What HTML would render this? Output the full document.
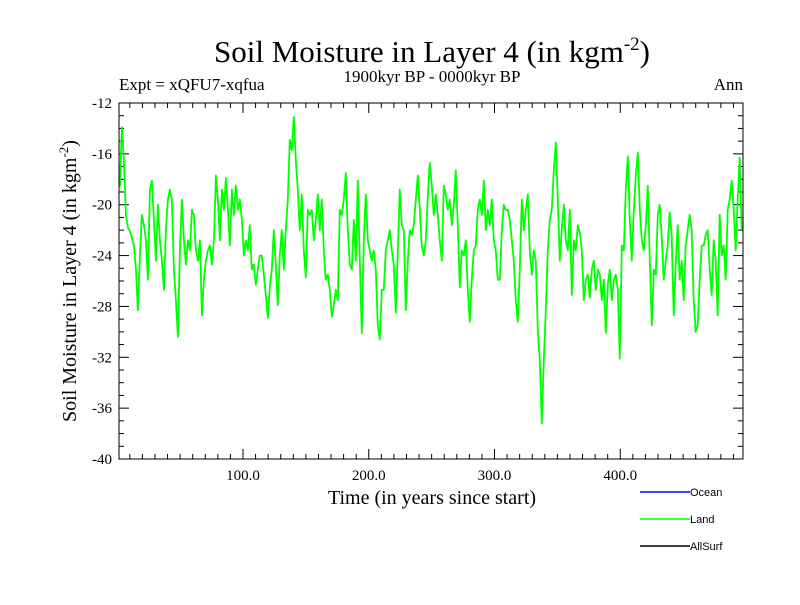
<!DOCTYPE html>
<html><head><meta charset="utf-8"><style>
body{margin:0;background:#fff;}
svg text{font-family:"Liberation Serif",serif;}
</style></head><body>
<svg id="chart" width="800" height="600" xmlns="http://www.w3.org/2000/svg">
<rect width="800" height="600" fill="#fff"/>
<text x="432" y="62" font-size="31" text-anchor="middle">Soil Moisture in Layer 4 (in kgm<tspan font-size="19" dy="-12">-2</tspan><tspan dy="12">)</tspan></text>
<text x="119" y="90" font-size="17">Expt = xQFU7-xqfua</text>
<text x="432" y="82" font-size="17" text-anchor="middle">1900kyr BP - 0000kyr BP</text>
<text x="743" y="90" font-size="17" text-anchor="end">Ann</text>
<text transform="translate(76,281) rotate(-90)" font-size="20" text-anchor="middle">Soil Moisture in Layer 4 (in kgm<tspan font-size="13" dy="-8">-2</tspan><tspan dy="8">)</tspan></text>
<text x="432" y="504" font-size="20" text-anchor="middle">Time (in years since start)</text>
<g id="axes"></g>
<g id="series"></g>
<rect x="119" y="103" width="624" height="356" fill="none" stroke="#000" stroke-width="1"/>
<g>
<line x1="640" y1="492" x2="690" y2="492" stroke="#0000ff" stroke-width="1.5"/>
<text x="690" y="496" font-size="11" style="font-family:'Liberation Sans',sans-serif">Ocean</text>
<line x1="640" y1="519" x2="690" y2="519" stroke="#00ff00" stroke-width="1.5"/>
<text x="690" y="523" font-size="11" style="font-family:'Liberation Sans',sans-serif">Land</text>
<line x1="640" y1="546" x2="690" y2="546" stroke="#000" stroke-width="1.5"/>
<text x="690" y="550" font-size="11" style="font-family:'Liberation Sans',sans-serif">AllSurf</text>
</g>
</svg>
<script>
const yTicks = [-12,-16,-20,-24,-28,-32,-36,-40];
const xTicks = [100,200,300,400];
const xTickLabels = ["100.0","200.0","300.0","400.0"];
const startYear = 2.1;
const yearStep = 1.59;
const landValues = [-18.6,-13.9,-16.5,-20.8,-21.8,-22.1,-22.6,-23.2,-25.0,-28.3,-24.0,-20.8,-21.6,-22.8,-25.9,-18.8,-18.1,-21.2,-24.4,-20.0,-22.8,-24.4,-26.7,-22.0,-19.6,-18.8,-19.6,-25.1,-27.5,-30.4,-23.6,-19.6,-22.8,-24.7,-22.8,-23.6,-20.4,-20.8,-23.6,-24.4,-22.8,-28.7,-25.9,-24.4,-23.6,-23.2,-24.7,-22.8,-17.7,-19.6,-22.8,-18.8,-20.4,-17.9,-20.4,-23.2,-18.8,-20.8,-18.5,-20.4,-19.6,-21.2,-24.0,-22.8,-23.6,-21.6,-25.1,-24.7,-26.3,-25.1,-24.0,-24.0,-25.5,-27.1,-28.9,-26.5,-25.1,-22.0,-24.7,-27.9,-24.0,-22.0,-25.1,-22.0,-19.6,-14.9,-15.7,-13.1,-16.5,-18.8,-22.0,-19.2,-23.6,-25.7,-20.4,-20.8,-20.4,-22.8,-21.2,-19.2,-22.0,-19.6,-23.6,-25.9,-25.5,-26.7,-28.8,-27.9,-26.7,-27.5,-20.4,-20.8,-19.6,-17.5,-22.0,-24.7,-25.1,-21.2,-24.4,-18.1,-24.4,-30.1,-22.8,-19.2,-22.8,-23.6,-24.4,-23.6,-25.1,-29.5,-30.6,-26.7,-26.7,-23.6,-22.8,-22.0,-23.6,-24.7,-28.5,-23.6,-18.8,-21.6,-22.0,-28.3,-24.4,-22.0,-22.4,-21.6,-19.6,-17.7,-20.4,-23.2,-24.0,-22.8,-19.4,-16.7,-18.5,-20.8,-19.2,-20.8,-22.8,-24.4,-18.5,-19.2,-20.4,-19.6,-21.6,-20.0,-17.3,-21.6,-26.5,-23.6,-24.0,-22.8,-26.7,-29.2,-25.9,-23.6,-23.2,-20.4,-19.6,-20.8,-18.1,-22.0,-20.4,-21.6,-19.6,-22.8,-23.6,-25.9,-25.9,-22.0,-20.0,-20.4,-20.4,-21.2,-22.8,-24.4,-27.5,-29.2,-25.1,-19.6,-22.0,-20.4,-19.2,-23.6,-25.5,-23.6,-24.4,-29.9,-32.2,-37.2,-32.2,-28.3,-23.6,-21.2,-20.4,-17.3,-15.1,-19.6,-24.4,-22.0,-20.0,-22.8,-23.6,-20.4,-27.1,-22.8,-23.6,-21.6,-22.2,-23.6,-27.5,-25.9,-25.5,-27.3,-25.1,-24.4,-26.7,-25.1,-25.5,-27.5,-25.9,-30.1,-26.3,-25.1,-27.5,-25.9,-25.5,-26.7,-32.1,-23.2,-23.6,-18.8,-16.2,-21.2,-24.4,-20.4,-17.7,-15.9,-20.4,-22.8,-23.6,-21.6,-18.5,-24.4,-29.5,-25.1,-25.5,-20.8,-20.0,-22.4,-25.9,-24.4,-23.2,-20.6,-22.4,-28.7,-24.7,-21.6,-25.9,-24.4,-27.5,-23.2,-22.0,-20.8,-22.0,-27.5,-30.0,-29.5,-25.9,-23.2,-23.2,-22.4,-22.0,-25.1,-27.1,-22.8,-24.4,-28.7,-20.8,-24.0,-23.2,-25.9,-20.4,-19.6,-18.1,-20.4,-23.6,-19.6,-16.3,-22.0];

const L=119,R=743,T=103,B=459;
const X0=1.4,X1=497.6,Y0=-40,Y1=-12;
function xs(v){return L+(v-X0)/(X1-X0)*(R-L);}
function ys(v){return B-(v-Y0)/(Y1-Y0)*(B-T);}
const NS="http://www.w3.org/2000/svg";
const axes=document.getElementById('axes');
function mk(tag,attrs,parent){const e=document.createElementNS(NS,tag);for(const k in attrs)e.setAttribute(k,attrs[k]);parent.appendChild(e);return e;}
for(let v=Y0;v<=Y1;v+=1){
  const major=(v%4===0);const len=major?10:5;const y=ys(v);
  const t1=mk('line',{x1:L,y1:y,x2:L+len,y2:y,stroke:'#000','stroke-width':1},axes);
  
  
  const t2=mk('line',{x1:R,y1:y,x2:R-len,y2:y,stroke:'#000','stroke-width':1},axes);
  
  
}
yTicks.forEach(v=>{
  const t=mk('text',{x:112,y:ys(v)+5,'font-size':15,'text-anchor':'end'},axes);
  t.textContent=String(v);
  
  
});
for(let v=10;v<=490;v+=10){
  const major=(v%100===0);const len=major?10:5;const x=xs(v);
  const t1=mk('line',{x1:x,y1:B,x2:x,y2:B-len,stroke:'#000','stroke-width':1},axes);
  
  
  const t2=mk('line',{x1:x,y1:T,x2:x,y2:T+len,stroke:'#000','stroke-width':1},axes);
  
  
}
xTicks.forEach((v,i)=>{
  const t=mk('text',{x:xs(v),y:480,'font-size':15,'text-anchor':'middle'},axes);
  t.textContent=xTickLabels[i];
  
  
});
const pts=landValues.map((v,i)=>xs(startYear+i*yearStep).toFixed(1)+','+ys(v).toFixed(1)).join(' ');
const line=mk('polyline',{points:pts,fill:'none',stroke:'#00ff00','stroke-width':1.8,'stroke-linejoin':'round'},document.getElementById('series'));


</script>
</body></html>
